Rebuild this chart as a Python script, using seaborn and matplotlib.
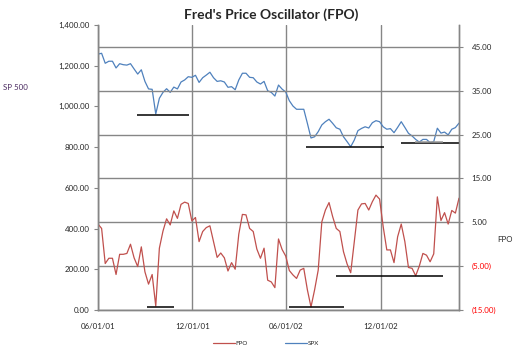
import matplotlib
matplotlib.use('Agg')
import matplotlib.pyplot as plt
import matplotlib.dates as mdates
from matplotlib.lines import Line2D
from matplotlib.ticker import FuncFormatter, MultipleLocator
import seaborn as sns
import pandas as pd

# weekly closes, 06/01/01 through 05/02/03
week_start = '2001-06-01'
n_weeks = 101

spx = [1257, 1261, 1212, 1222, 1222, 1189, 1210, 1205, 1203, 1210,
       1184, 1159, 1180, 1123, 1086, 1084, 963, 1040, 1069, 1087,
       1069, 1095, 1086, 1120, 1130, 1146, 1143, 1153, 1118, 1141,
       1154, 1168, 1141, 1123, 1126, 1120, 1094, 1097, 1082, 1130,
       1163, 1163, 1143, 1141, 1120, 1110, 1123, 1077, 1069, 1051,
       1105, 1085, 1071, 1028, 1002, 986, 986, 986, 917, 845,
       851, 876, 909, 925, 937, 917, 895, 888, 851, 827,
       802, 835, 881, 892, 900, 894, 920, 930, 925, 900,
       888, 891, 871, 897, 925, 897, 868, 855, 838, 825,
       838, 838, 822, 827, 893, 869, 874, 860, 888, 896,
       918]

fpo = [4.6, 3.6, -4.4, -3.2, -3.2, -6.9, -2.3, -2.3, -2.1, 0.0,
       -3.1, -5.1, -0.6, -6.3, -9.1, -6.9, -14.1, -0.9, 3.0, 5.8,
       4.4, 7.6, 5.9, 9.1, 9.6, 9.3, 5.3, 6.1, 0.6, 2.9,
       3.8, 4.2, 0.6, -3.0, -2.0, -3.1, -6.1, -4.2, -5.7, 2.3,
       6.8, 6.7, 3.6, 2.9, -1.1, -3.2, -0.9, -8.2, -8.6, -9.9,
       1.2, -1.2, -2.7, -6.0, -7.0, -7.8, -5.9, -5.5, -10.4, -14.3,
       -10.4, -5.9, 5.1, 7.8, 9.5, 6.3, 3.6, 2.9, -1.7, -4.5,
       -6.5, 0.6, 7.8, 9.2, 9.3, 7.8, 9.7, 11.2, 10.3, 4.0,
       -1.3, -1.3, -4.2, 1.7, 4.6, 0.6, -5.3, -5.5, -7.2, -5.0,
       -2.1, -2.5, -4.0, -2.2, 10.8, 5.4, 7.2, 4.6, 7.7, 7.1,
       10.5]

# hand-drawn support lines
spx_support_start = ['2001-08-16', '2002-07-09', '2003-01-09']
spx_support_end = ['2001-11-24', '2002-12-07', '2003-05-02']
spx_support_level = [958, 801, 820]
spx_gray_start, spx_gray_end, spx_gray_level = '2003-02-06', '2003-04-01', 824

fpo_support_start = ['2001-09-04', '2002-06-07', '2002-09-06']
fpo_support_end = ['2001-10-26', '2002-09-21', '2003-04-01']
fpo_support_level = [-14.3, -14.3, -7.2]

x_ticks = ['2001-06-01', '2001-12-01', '2002-06-01', '2002-12-01']

dates = pd.date_range(week_start, periods=n_weeks, freq='7D')
df = pd.DataFrame({'Date': dates, 'SPX': spx, 'FPO': fpo})

sns.set_style('white')
plt.rcParams['font.family'] = ['Lato', 'DejaVu Sans']

blue = '#4F81BD'
red = '#C0504D'
grid_col = '#868686'

fig = plt.figure(figsize=(5.25, 3.53), dpi=100)
ax = fig.add_axes([98 / 525, 1 - 310 / 353, (459 - 98) / 525, (310 - 25) / 353])
ax2 = ax.twinx()

sns.lineplot(data=df, x='Date', y='SPX', ax=ax, color=blue, lw=0.9)
sns.lineplot(data=df, x='Date', y='FPO', ax=ax2, color=red, lw=0.9)

for s, e, lv in zip(spx_support_start, spx_support_end, spx_support_level):
    ax.hlines(lv, pd.Timestamp(s), pd.Timestamp(e), colors='black', lw=1.1, zorder=5)
ax.hlines(spx_gray_level, pd.Timestamp(spx_gray_start), pd.Timestamp(spx_gray_end),
          colors='#999999', lw=1.1, zorder=6)
for s, e, lv in zip(fpo_support_start, fpo_support_end, fpo_support_level):
    ax2.hlines(lv, pd.Timestamp(s), pd.Timestamp(e), colors='black', lw=1.1, zorder=5)

ax.set_xlim(dates[0], dates[-1])
ax.set_ylim(0, 1400)
ax2.set_ylim(-15, 50)
ax.yaxis.set_major_locator(MultipleLocator(200))
ax2.set_yticks(range(-15, 46, 10))
ax.set_xticks([pd.Timestamp(t) for t in x_ticks])
ax.xaxis.set_major_formatter(mdates.DateFormatter('%m/%d/%y'))
ax.yaxis.set_major_formatter(FuncFormatter(lambda v, p: f'{v:,.2f}'))
ax2.yaxis.set_major_formatter(
    FuncFormatter(lambda v, p: f'({abs(v):,.2f})' if v < 0 else f'{v:,.2f}'))

ax.set_xlabel('')
ax.set_ylabel('')
ax2.set_ylabel('')

# grid: vertical from dates, horizontal from the FPO axis
ax.grid(axis='x', color=grid_col, lw=1)
ax.grid(axis='y', visible=False)
ax2.grid(axis='y', color=grid_col, lw=1)
ax2.grid(axis='x', visible=False)
ax.set_axisbelow(True)
ax2.set_axisbelow(True)

for a in (ax, ax2):
    a.spines['top'].set_visible(False)
    for side in ('left', 'right', 'bottom'):
        a.spines[side].set_color(grid_col)
        a.spines[side].set_linewidth(1)
ax.tick_params(axis='y', which='major', left=True, length=3, color=grid_col,
               labelsize=5.7, pad=3)
ax.tick_params(axis='x', bottom=False, labelsize=5.7, pad=6)
ax2.tick_params(axis='y', right=True, length=3, color=grid_col, labelsize=5.7, pad=6)
for lab, v in zip(ax2.get_yticklabels(), ax2.get_yticks()):
    if v < 0:
        lab.set_color('red')

fig.text(271 / 525, 1 - 15 / 353, "Fred's Price Oscillator (FPO)", ha='center', va='center',
         fontsize=10, fontweight='bold')
fig.text(3 / 525, 1 - 87 / 353, 'SP 500', ha='left', va='center', fontsize=5.7, color='#4a2a60')
fig.text(497 / 525, 1 - 239 / 353, 'FPO', ha='left', va='center', fontsize=5.7)

handles = [Line2D([], [], color=red, lw=0.9), Line2D([], [], color=blue, lw=0.9)]
fig.legend(handles, ['FPO', 'SPX'], loc='center', bbox_to_anchor=(266 / 525, 1 - 343 / 353),
           ncol=2, frameon=False, fontsize=4.5, handlelength=3.5, handletextpad=0.1,
           columnspacing=6)

fig.savefig('out.png', dpi=100)
plt.close(fig)
